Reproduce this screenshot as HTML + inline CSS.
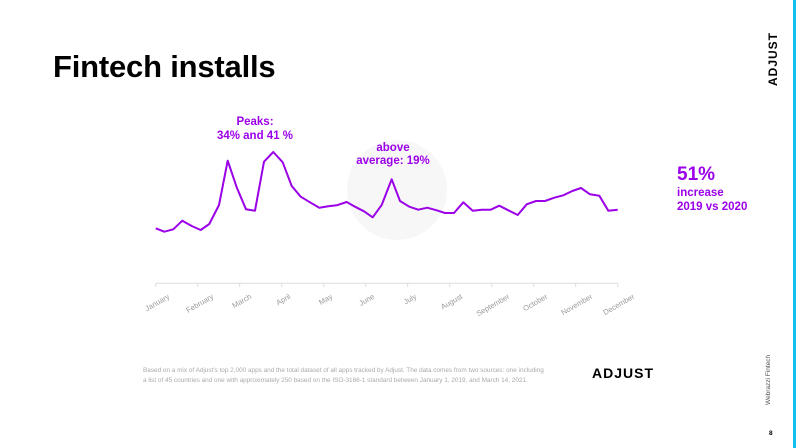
<!DOCTYPE html>
<html><head><meta charset="utf-8"><style>
html,body{margin:0;padding:0}
body{width:796px;height:448px;position:relative;background:#fff;font-family:"Liberation Sans",sans-serif;overflow:hidden}
.abs{position:absolute}
</style></head><body>
<div class="abs" style="right:0;top:0;width:3px;height:448px;background:#12c0f0"></div>
<div class="abs" style="left:53px;top:49px;font-size:31px;font-weight:bold;color:#000;letter-spacing:-0.2px">Fintech installs</div>
<svg class="abs" style="left:0;top:0" width="796" height="448">
<text transform="translate(777,86) rotate(-90)" font-size="12" font-weight="bold" letter-spacing="1" fill="#000" font-family="Liberation Sans,sans-serif">ADJUST</text>
<circle cx="397" cy="190" r="50" fill="#f7f7f7"/>
<line x1="155.7" y1="283.3" x2="617.7" y2="283.3" stroke="#ddd" stroke-width="1"/>
<g stroke="#ddd" stroke-width="1">
<line x1="155.7" y1="283" x2="155.7" y2="287"/><line x1="197.7" y1="283" x2="197.7" y2="287"/><line x1="239.7" y1="283" x2="239.7" y2="287"/><line x1="281.7" y1="283" x2="281.7" y2="287"/><line x1="323.7" y1="283" x2="323.7" y2="287"/><line x1="365.7" y1="283" x2="365.7" y2="287"/><line x1="407.7" y1="283" x2="407.7" y2="287"/><line x1="449.7" y1="283" x2="449.7" y2="287"/><line x1="491.7" y1="283" x2="491.7" y2="287"/><line x1="533.7" y1="283" x2="533.7" y2="287"/><line x1="575.7" y1="283" x2="575.7" y2="287"/><line x1="617.7" y1="283" x2="617.7" y2="287"/>
</g>
<polyline fill="none" stroke="#9b00e8" stroke-width="2" stroke-linejoin="round" points="155.7,228.3 164.3,231.7 173.3,229.3 182.3,220.7 191.7,226 200.7,230 209.3,224 219,205 227.7,160.7 236.7,187.3 246,209.3 255,210.7 264,161.7 273.3,152 282.7,162.3 291.7,186 300.7,196.7 310,202.3 319.3,207.7 328.3,206.3 336.7,205.3 346.7,202 355,206.7 364,211.3 372.7,217.3 381.7,205 391.7,179.3 400,201 409.3,206.7 418.3,209.7 427.3,207.7 436.7,210.3 445,213 454,213 463.3,202.3 472.7,210.7 481.7,209.7 490.7,209.7 499.3,205.7 508.3,210.3 517.7,215 526.7,204.3 536,201 545,201 554.3,197.7 563.3,195.3 572.3,191 581,188 590,194.3 599.3,195.7 608.3,210.7 617.7,209.7"/>
<g font-size="7.5" fill="#999" font-family="Liberation Sans,sans-serif" text-anchor="end">
<text transform="translate(170,298) rotate(-30)">January</text>
<text transform="translate(214,298) rotate(-30)">February</text>
<text transform="translate(252,298) rotate(-30)">March</text>
<text transform="translate(291,298) rotate(-30)">April</text>
<text transform="translate(333,298) rotate(-30)">May</text>
<text transform="translate(375,298) rotate(-30)">June</text>
<text transform="translate(417,298) rotate(-30)">July</text>
<text transform="translate(463,298) rotate(-30)">August</text>
<text transform="translate(510,298) rotate(-30)">September</text>
<text transform="translate(548,298) rotate(-30)">October</text>
<text transform="translate(593,298) rotate(-30)">November</text>
<text transform="translate(635,298) rotate(-30)">December</text>
</g>
<g font-weight="bold" fill="#9b00e8" font-family="Liberation Sans,sans-serif" font-size="11.5" text-anchor="middle">
<text x="255" y="125">Peaks:</text>
<text x="255" y="139">34% and 41 %</text>
<text x="393" y="151">above</text>
<text x="393" y="164">average: 19%</text>
</g>
<g font-weight="bold" fill="#9b00e8" font-family="Liberation Sans,sans-serif">
<text x="677" y="180" font-size="19">51%</text>
<text x="677" y="196" font-size="11.5">increase</text>
<text x="677" y="210" font-size="11.5">2019 vs  2020</text>
</g>
<g font-size="6.4" fill="#aaa" font-family="Liberation Sans,sans-serif">
<text x="143" y="372">Based on a mix of Adjust's top 2,000 apps and the total dataset of all apps tracked by Adjust. The data comes from two sources: one including</text>
<text x="143" y="382">a list of 45 countries and one with approximately 250 based on the ISO-3166-1 standard between January 1, 2019, and March 14, 2021.</text>
</g>
<text x="592" y="378" font-size="14" font-weight="bold" letter-spacing="1" fill="#000" font-family="Liberation Sans,sans-serif">ADJUST</text>
<text transform="translate(770,405) rotate(-90)" font-size="6.5" fill="#555" font-family="Liberation Sans,sans-serif">Webrazzi Fintech</text>
<text x="769" y="435" font-size="6.5" font-weight="bold" fill="#000" font-family="Liberation Sans,sans-serif">8</text>
</svg>
</body></html>
